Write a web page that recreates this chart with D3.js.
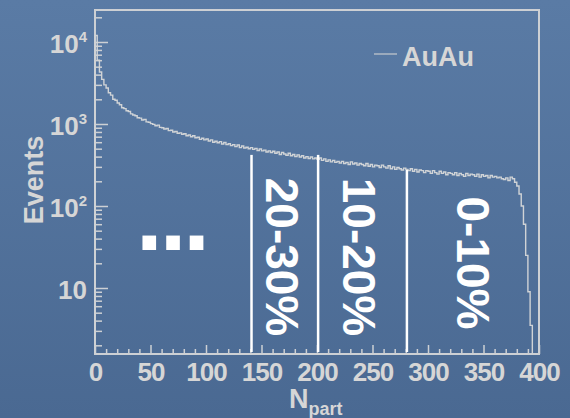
<!DOCTYPE html>
<html>
<head>
<meta charset="utf-8">
<script src="https://cdn.jsdelivr.net/npm/d3@7"></script>
<style>
  html, body { margin: 0; padding: 0; background: #52729b; }
  svg { display: block; }
  text { font-family: "Liberation Sans", Arial, sans-serif; font-weight: bold; }
</style>
</head>
<body>
<div id="chart"></div>
<script>
// Npart histogram, 2-unit bins starting at 0
const binWidth = 2;
const counts = [
  12000, 6000, 4300, 3500, 3000, 2750, 2400, 2250, 2000, 1950,
  1800, 1720, 1580, 1540, 1450, 1420, 1330, 1290, 1260, 1190,
  1180, 1120, 1140, 1060, 1050, 1010, 990, 950, 970, 910,
  900, 870, 880, 830, 840, 800, 810, 770, 780, 750,
  760, 720, 735, 700, 720, 680, 690, 650, 670, 640,
  655, 620, 640, 600, 615, 590, 610, 570, 595, 560,
  575, 545, 560, 530, 555, 515, 540, 510, 520, 500,
  515, 490, 505, 475, 495, 470, 480, 455, 470, 450,
  465, 440, 455, 425, 450, 430, 415, 440, 410, 425,
  400, 420, 395, 410, 385, 400, 380, 395, 375, 385,
  370, 385, 360, 375, 350, 365, 345, 360, 340, 350,
  335, 350, 330, 340, 320, 345, 325, 335, 315, 330,
  320, 310, 330, 305, 320, 300, 315, 310, 295, 315,
  300, 290, 310, 285, 300, 280, 295, 285, 275, 290,
  280, 270, 285, 265, 280, 260, 275, 270, 255, 270,
  265, 250, 270, 255, 245, 265, 250, 260, 240, 255,
  250, 240, 255, 235, 250, 240, 230, 250, 235, 245,
  240, 230, 245, 225, 240, 230, 235, 220, 235, 225,
  230, 220, 225, 215, 210, 220, 205, 225, 215, 195,
  175, 140, 100, 60, 25, 9, 3.5
];

const xTicks = [0, 50, 100, 150, 200, 250, 300, 350, 400];
const yMajor = [10, 100, 1000, 10000];
const yLabelBase = ["10", "10", "10", "10"];
const yLabelExp = ["", "2", "3", "4"];

// centrality cuts in Npart and the height the marker line reaches
const cutN = [141, 201, 281];
const cutTop = [420, 420, 275];
const cutLabels = ["20-30%", "10-20%", "0-10%"];
const legendLabel = "AuAu";
const xTitle = "N";
const xTitleSub = "part";
const yTitle = "Events";
const dotsText = "...";

const W = 570, H = 418;
const plot = { left: 95, top: 10, right: 539, bottom: 354 };

const svg = d3.select("#chart")
  .append("svg")
  .attr("width", W)
  .attr("height", H);

// background
const grad = svg.append("defs").append("linearGradient")
  .attr("id", "bg").attr("x1", 0).attr("y1", 0).attr("x2", 0).attr("y2", 1);
grad.append("stop").attr("offset", "0%").attr("stop-color", "#5a7ba5");
grad.append("stop").attr("offset", "100%").attr("stop-color", "#4a6992");
svg.append("rect").attr("width", W).attr("height", H).attr("fill", "url(#bg)");

const axisColor = "#cdd0d4";
const labelColor = "#d6d6d6";

// scales
const x = d3.scaleLinear().domain([0, 400]).range([plot.left, plot.right]);
const y = d3.scaleLog().domain([1.567, 24557]).range([plot.bottom, plot.top]);

// minor ticks
const yMinor = [];
for (let k = 0; k <= 4; k++) {
  for (let d = 2; d <= 9; d++) {
    const v = d * Math.pow(10, k);
    if (v > y.domain()[0] && v < y.domain()[1]) yMinor.push(v);
  }
}
const xMinor = d3.range(0, 401, 10).filter(v => v % 50 !== 0);

function styleAxis(g) {
  g.select(".domain").remove();
  g.selectAll("line").attr("stroke", axisColor).attr("stroke-width", 1.5);
}

// Y axis
svg.append("g")
  .attr("transform", `translate(${plot.left},0)`)
  .call(d3.axisLeft(y).tickValues(yMinor).tickSize(-7).tickFormat(""))
  .call(styleAxis);
svg.append("g")
  .attr("transform", `translate(${plot.left},0)`)
  .call(d3.axisLeft(y).tickValues(yMajor).tickSize(-13).tickFormat(""))
  .call(styleAxis);

// Y labels with superscripts
yMajor.forEach((v, i) => {
  const t = svg.append("text")
    .attr("x", 87)
    .attr("y", y(v) + 11)
    .attr("text-anchor", "end")
    .attr("fill", labelColor)
    .style("font-size", "26px");
  t.append("tspan").text(yLabelBase[i]);
  if (yLabelExp[i]) {
    t.append("tspan")
      .attr("dy", -11)
      .style("font-size", "15px")
      .text(yLabelExp[i]);
  }
});

// X axis
svg.append("g")
  .attr("transform", `translate(0,${plot.bottom})`)
  .call(d3.axisBottom(x).tickValues(xMinor).tickSize(-5).tickFormat(""))
  .call(styleAxis);
const xAxis = svg.append("g")
  .attr("transform", `translate(0,${plot.bottom})`)
  .call(d3.axisBottom(x).tickValues(xTicks).tickSize(-9).tickPadding(9).tickFormat(d3.format("d")))
  .call(styleAxis);
xAxis.selectAll("text")
  .attr("fill", labelColor)
  .style("font-size", "26px")
  .style("font-family", "'Liberation Sans', Arial, sans-serif")
  .style("font-weight", "bold")
  .style("letter-spacing", "-1px");

// frame
svg.append("rect")
  .attr("x", plot.left).attr("y", plot.top)
  .attr("width", plot.right - plot.left)
  .attr("height", plot.bottom - plot.top)
  .attr("fill", "none")
  .attr("stroke", axisColor)
  .attr("stroke-width", 2);

// histogram outline
const floor = y.domain()[0];
const pts = [{ n: 0, v: floor }];
counts.forEach((c, i) => pts.push({ n: i * binWidth, v: c }));
pts.push({ n: counts.length * binWidth, v: counts[counts.length - 1] });
pts.push({ n: counts.length * binWidth, v: floor });

const line = d3.line()
  .curve(d3.curveStepAfter)
  .x(d => x(d.n))
  .y(d => y(d.v));

svg.append("path")
  .attr("d", line(pts))
  .attr("fill", "none")
  .attr("stroke", "#d0d3d6")
  .attr("stroke-width", 1.4);

// centrality cut lines
svg.selectAll(".cut")
  .data(cutN)
  .enter()
  .append("line")
  .attr("class", "cut")
  .attr("x1", d => x(d))
  .attr("x2", d => x(d))
  .attr("y1", (d, i) => y(cutTop[i]))
  .attr("y2", plot.bottom - 2)
  .attr("stroke", "#ffffff")
  .attr("stroke-width", 2.5);

// centrality labels (rotated, reading downward)
const cutLabelPos = [{ x: 266, y: 257 }, { x: 343, y: 257 }, { x: 457, y: 263 }];
cutLabels.forEach((s, i) => {
  svg.append("text")
    .attr("transform", `translate(${cutLabelPos[i].x},${cutLabelPos[i].y}) rotate(90)`)
    .attr("text-anchor", "middle")
    .attr("fill", "#ffffff")
    .style("font-size", "46px")
    .text(s);
});

// ellipsis
svg.append("text")
  .attr("x", 136)
  .attr("y", 250)
  .attr("fill", "#ffffff")
  .style("font-size", "96px")
  .style("letter-spacing", "-3px")
  .text(dotsText);

// legend
svg.append("line")
  .attr("x1", 374).attr("x2", 397)
  .attr("y1", 54).attr("y2", 54)
  .attr("stroke", "#c8cbcf")
  .attr("stroke-width", 1.2);
svg.append("text")
  .attr("x", 402).attr("y", 66)
  .attr("fill", labelColor)
  .style("font-size", "27px")
  .text(legendLabel);

// axis titles
svg.append("text")
  .attr("transform", "translate(43,180) rotate(-90)")
  .attr("text-anchor", "middle")
  .attr("fill", labelColor)
  .style("font-size", "27px")
  .text(yTitle);

const xt = svg.append("text")
  .attr("x", 289).attr("y", 408)
  .attr("fill", labelColor)
  .style("font-size", "27px");
xt.append("tspan").text(xTitle);
xt.append("tspan")
  .attr("dy", 7)
  .style("font-size", "18px")
  .text(xTitleSub);
</script>
</body>
</html>
